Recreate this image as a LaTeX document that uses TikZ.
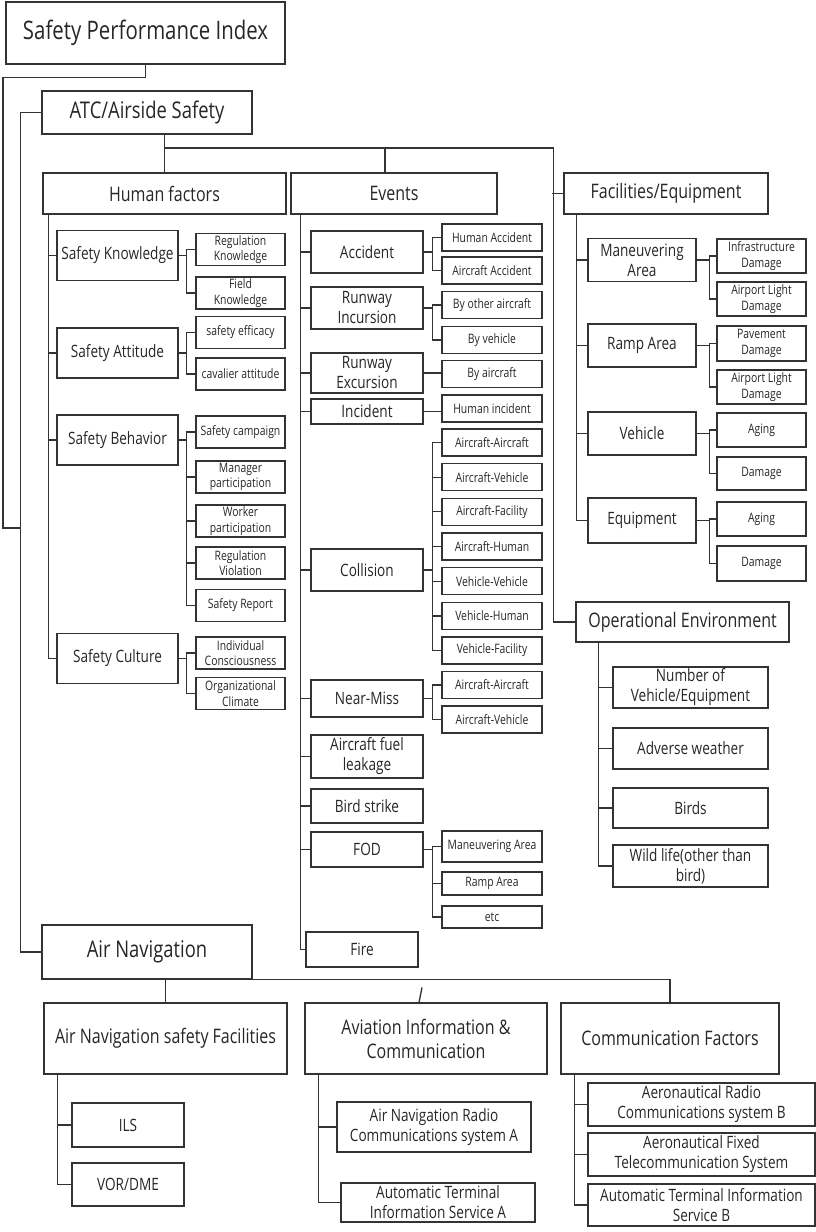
\documentclass[tikz,border=0pt]{standalone}
\usepackage{fontspec}
\setmainfont{Open Sans}[FakeStretch=0.8]
\usetikzlibrary{calc}

\tikzset{
  box/.style={draw=black!80, line width=1.2pt, inner sep=1pt, align=center, text=black!85},
  top/.style={box, font=\fontsize{25.5}{30}\selectfont},
  big/.style={box, font=\fontsize{23}{27}\selectfont},
  head/.style={box, font=\fontsize{20}{24}\selectfont, minimum height=41pt},
  item/.style={box, font=\fontsize{17}{20}\selectfont},
  sub/.style={box, font=\fontsize{13}{15.5}\selectfont},
  hfc/.style={item, minimum width=121pt, minimum height=50pt},
  hfg/.style={sub, minimum width=89pt, minimum height=32pt},
  evc/.style={item, minimum width=112pt, minimum height=42pt},
  evg/.style={sub, minimum width=100pt, minimum height=27pt},
  fec/.style={item, minimum width=108pt, minimum height=43pt},
  feg/.style={sub, minimum width=89pt, minimum height=34pt},
  oec/.style={item, minimum width=155pt, minimum height=41pt},
  link/.style={draw=black!80, line width=1.3pt},
}

\begin{document}
\begin{tikzpicture}[x=1pt, y=-1pt]
\useasboundingbox (0,0) rectangle (816,1232);

% top levels
\node[top, minimum width=279pt, minimum height=62pt] (spi) at (145.5,33) {Safety Performance Index};
\node[big, minimum width=210pt, minimum height=43pt] (atc) at (147,112.5) {ATC/Airside Safety};
\node[head, minimum width=243pt] (hf) at (164.5,193.5) {Human factors};
\node[head, minimum width=206pt] (ev) at (394,193.5) {Events};
\node[head, minimum width=204pt] (fe) at (666,193.5) {Facilities/Equipment};
\node[head, minimum width=213pt, minimum height=40pt] (oe) at (682.5,622) {Operational Environment};

% human factors
\node[hfc] (sk) at (117.5,255.5) {Safety Knowledge};
\node[hfc] (sa) at (117.5,353) {Safety Attitude};
\node[hfc] (sb) at (117.5,440) {Safety Behavior};
\node[hfc] (sc) at (117.5,658.5) {Safety Culture};
\node[hfg] (rk) at (240.5,249.5) {Regulation\\Knowledge};
\node[hfg] (fk) at (240.5,293) {Field\\Knowledge};
\node[hfg] (se) at (240.5,332.5) {safety efficacy};
\node[hfg] (ca) at (240.5,374) {cavalier attitude};
\node[hfg] (sp) at (240.5,432) {Safety campaign};
\node[hfg] (mp) at (240.5,477) {Manager\\participation};
\node[hfg] (wp) at (240.5,521) {Worker\\participation};
\node[hfg] (rv) at (240.5,563) {Regulation\\Violation};
\node[hfg] (sr) at (240.5,605.5) {Safety Report};
\node[hfg] (ic) at (240.5,653) {Individual\\Consciousness};
\node[hfg] (oc) at (240.5,693.5) {Organizational\\Climate};

% events
\node[evc] (acc) at (367,252) {Accident};
\node[evc] (ri) at (367,308) {Runway\\Incursion};
\node[evc, minimum height=40pt] (re) at (367,373) {Runway\\Excursion};
\node[evc, minimum height=25pt] (inc) at (367,411.5) {Incident};
\node[evc] (col) at (367,570) {Collision};
\node[evc, minimum height=37pt] (nm) at (367,698.5) {Near-Miss};
\node[evc, minimum height=43pt] (afl) at (367,756.5) {Aircraft fuel\\leakage};
\node[evc, minimum height=34pt] (bs) at (367,806) {Bird strike};
\node[evc, minimum height=35pt] (fod) at (367,849.5) {FOD};
\node[evc, minimum height=35pt] (fire) at (362,949.5) {Fire};
\node[evg] (ha) at (492,237.5) {Human Accident};
\node[evg] (aa) at (492,270.5) {Aircraft Accident};
\node[evg] (boa) at (492,305) {By other aircraft};
\node[evg] (bv) at (492,340) {By vehicle};
\node[evg] (ba) at (492,374) {By aircraft};
\node[evg] (hi) at (492,408.5) {Human incident};
\foreach \t [count=\i] in {Aircraft-Aircraft,Aircraft-Vehicle,Aircraft-Facility,Aircraft-Human,Vehicle-Vehicle,Vehicle-Human,Vehicle-Facility}
  \node[evg] (c\i) at (492,407.83+34.67*\i) {\t};
\node[evg] (n1) at (492,685) {Aircraft-Aircraft};
\node[evg] (n2) at (492,719.5) {Aircraft-Vehicle};
\node[evg, minimum height=31pt] (f1) at (492,846.5) {Maneuvering Area};
\node[evg, minimum height=23pt] (f2) at (492,883.5) {Ramp Area};
\node[evg, minimum height=22pt] (f3) at (492,917) {etc};

% facilities
\node[fec] (ma) at (642,260) {Maneuvering\\Area};
\node[fec] (ra) at (642,345.5) {Ramp Area};
\node[fec] (ve) at (642,433.5) {Vehicle};
\node[fec, minimum height=45pt] (eq) at (642,520.5) {Equipment};
\node[feg] (id) at (761.5,256) {Infrastructure\\Damage};
\node[feg] (ld1) at (761.5,299) {Airport Light\\Damage};
\node[feg, minimum height=35pt] (pd) at (761.5,343.5) {Pavement\\Damage};
\node[feg] (ld2) at (761.5,387) {Airport Light\\Damage};
\node[feg] (ag1) at (761.5,430) {Aging};
\node[feg, minimum height=33pt] (dm1) at (761.5,473.5) {Damage};
\node[feg] (ag2) at (761.5,519) {Aging};
\node[feg, minimum height=35pt] (dm2) at (761.5,563.5) {Damage};

% operational environment
\node[oec] (nv) at (690.5,687.5) {Number of\\Vehicle/Equipment};
\node[oec] (aw) at (690.5,748.5) {Adverse weather};
\node[oec, minimum height=40pt] (bi) at (690.5,808) {Birds};
\node[oec, minimum height=42pt] (wl) at (690.5,866) {Wild life(other than\\bird)};

% air navigation
\node[big, minimum width=210pt, minimum height=54pt] (an) at (147,952) {Air Navigation};
\node[head, minimum width=243pt, minimum height=71pt] (ansf) at (165.5,1038.5) {Air Navigation safety Facilities};
\node[head, minimum width=242pt, minimum height=71pt] (aic) at (426,1038.5) {Aviation Information \&\\Communication};
\node[head, minimum width=218pt, minimum height=71pt] (cf) at (670,1038.5) {Communication Factors};
\node[item, minimum width=112pt, minimum height=44pt] (ils) at (128,1125) {ILS};
\node[item, minimum width=112pt, minimum height=43pt] (vor) at (128,1184.5) {VOR/DME};
\node[item, minimum width=194pt, minimum height=50pt] (anr) at (434,1127) {Air Navigation Radio\\Communications system A};
\node[item, minimum width=194pt, minimum height=39pt] (atisa) at (438,1202.5) {Automatic Terminal\\Information Service A};
\node[item, minimum width=227pt, minimum height=43pt] (arc) at (701.5,1104.5) {Aeronautical Radio\\Communications system B};
\node[item, minimum width=227pt, minimum height=43pt] (aft) at (701.5,1154.5) {Aeronautical Fixed\\Telecommunication System};
\node[item, minimum width=227pt, minimum height=42pt] (atisb) at (701.5,1205) {Automatic Terminal Information\\Service B};

% trunk
\coordinate (j) at (21,528);
\coordinate (atcj) at (164.5,148);
\draw[link] (spi.south) -- ++(0,13) -| ([xshift=-18pt]j) -- (j);
\draw[link] (atc.west) -- ++(-21,0) |- (an.west);
\draw[link] (atc.south -| hf.north) -- (hf.north);
\draw[link] (atcj) -| ([xshift=-22pt]oe.west) -- (oe.west);
\draw[link] ([xshift=-9pt]ev.north) -- ++(0,-25);
\draw[link] (fe.west) -- ++(-11,0);

% spines of the second level
\draw[link] ([xshift=6pt]hf.south west) |- (sc.west);
\foreach \n in {sk,sa,sb} \draw[link] (\n.west) -- ++(-8,0);
\draw[link] ([xshift=10pt]ev.south west) |- (fire.west);
\foreach \n in {acc,ri,re,inc,col,nm,afl,bs,fod} \draw[link] (\n.west) -- ++(-10,0);
\draw[link] ([xshift=13pt]fe.south west) |- (eq.west);
\foreach \n in {ma,ra,ve} \draw[link] (\n.west) -- ++(-11,0);
\draw[link] ([xshift=23pt]oe.south west) |- (wl.west);
\foreach \n in {nv,aw,bi} \draw[link] (\n.west) -- ++(-14,0);

% third level
\foreach \p/\a/\b/\d in {sk/rk/fk/9, sa/se/ca/9, sb/sp/sr/9, sc/ic/oc/9, acc/ha/aa/9, ri/boa/bv/9,
    col/c1/c7/9, nm/n1/n2/9, fod/f1/f3/9, ma/id/ld1/7, ra/pd/ld2/7, ve/ag1/dm1/7, eq/ag2/dm2/7} {
  \draw[link] (\a.west) -- ++(-\d,0) |- (\b.west);
  \draw[link] (\p.east) -- ($(\p.east -| \a.west)+(-\d,0)$);
}
\foreach \n in {mp,wp,rv,c2,c3,c4,c5,c6,f2} \draw[link] (\n.west) -- ++(-9,0);
\draw[link] (re.east) -- (re.east -| ba.west);
\draw[link] (inc.east) -- (inc.east -| hi.west);

% air navigation branches
\draw[link] (ansf.north) |- (cf.north |- an.south) -- (cf.north);
\draw[link] ([xshift=-7pt]aic.north) -- ++(3,-15);
\draw[link] ([xshift=14pt]ansf.south west) |- (vor.west);
\draw[link] (ils.west) -- ++(-14,0);
\draw[link] ([xshift=14pt]aic.south west) |- (atisa.west);
\draw[link] (anr.west) -- ++(-18,0);
\draw[link] ([xshift=14pt]cf.south west) |- (atisb.west);
\draw[link] (arc.west) -- ++(-13,0);
\draw[link] (aft.west) -- ++(-13,0);
\end{tikzpicture}
\end{document}
